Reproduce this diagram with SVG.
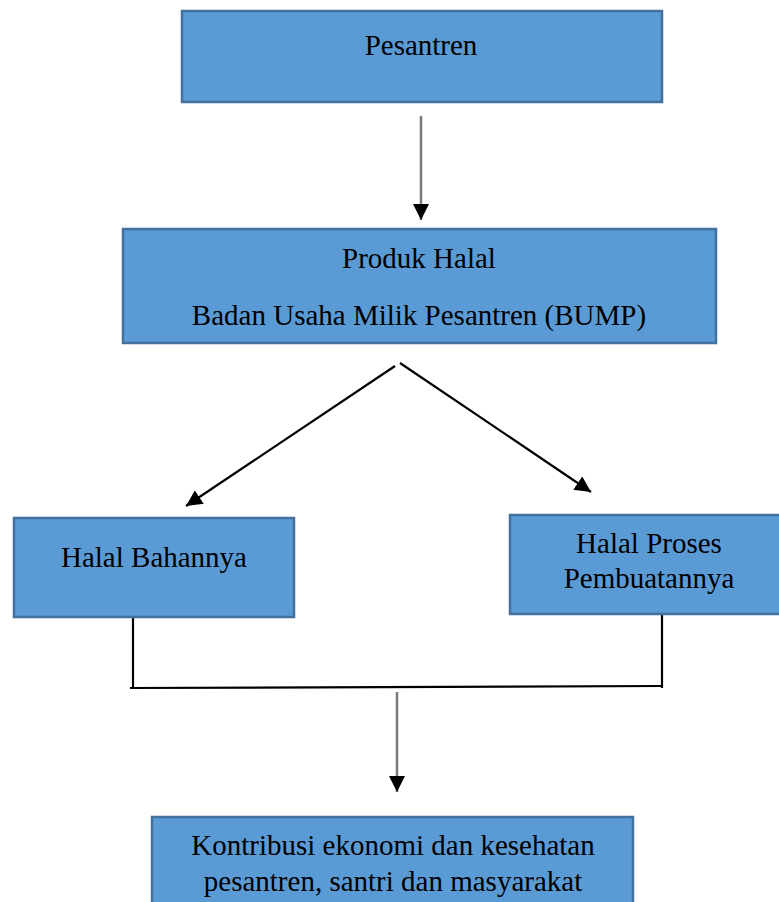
<svg xmlns="http://www.w3.org/2000/svg" width="779" height="902" viewBox="0 0 779 902">
<style>
.box{fill:#5B9BD5;stroke:#41719C;stroke-width:2.5}
.t{font-family:"Liberation Serif","Times New Roman",serif;font-size:29px;fill:#000;text-anchor:middle}
.ln{fill:none;stroke:#000;stroke-width:2.2}
.gr{fill:none;stroke:#7a7a7a;stroke-width:2.5}
</style>
<defs>
<marker id="ah" markerUnits="userSpaceOnUse" markerWidth="18" markerHeight="16" refX="16" refY="8" orient="auto">
<path d="M0,0 L16,8 L0,16 Z" fill="#000"/>
</marker>
</defs>
<rect width="779" height="902" fill="#fff"/>
<g id="connectors">
<line class="gr" x1="421" y1="116" x2="421" y2="220" marker-end="url(#ah)"/>
<line class="ln" x1="395" y1="366" x2="186" y2="506" marker-end="url(#ah)"/>
<line class="ln" x1="400" y1="363" x2="591" y2="492" marker-end="url(#ah)"/>
<line class="ln" x1="133" y1="618" x2="133" y2="688"/>
<line class="ln" x1="662" y1="615" x2="662" y2="688"/>
<line class="ln" x1="130" y1="688" x2="662" y2="686" stroke-width="2.8"/>
<line class="gr" x1="397" y1="692" x2="397" y2="792" stroke="#555" marker-end="url(#ah)"/>
</g>
<g id="pesantren">
<rect class="box" x="182" y="11" width="480" height="91"/>
<text class="t" x="421" y="55">Pesantren</text>
</g>
<g id="produk-halal">
<rect class="box" x="123" y="229" width="593" height="114"/>
<text class="t" x="419" y="268">Produk Halal</text>
<text class="t" x="419" y="325">Badan Usaha Milik Pesantren (BUMP)</text>
</g>
<g id="halal-bahan">
<rect class="box" x="14" y="518" width="280" height="99"/>
<text class="t" x="154" y="567">Halal Bahannya</text>
</g>
<g id="halal-proses">
<rect class="box" x="510" y="515" width="275" height="99"/>
<text class="t" x="649" y="553">Halal Proses</text>
<text class="t" x="649" y="588">Pembuatannya</text>
</g>
<g id="kontribusi">
<rect class="box" x="152" y="817" width="481" height="100"/>
<text class="t" x="393" y="855">Kontribusi ekonomi dan kesehatan</text>
<text class="t" x="393" y="891">pesantren, santri dan masyarakat</text>
</g>
</svg>
